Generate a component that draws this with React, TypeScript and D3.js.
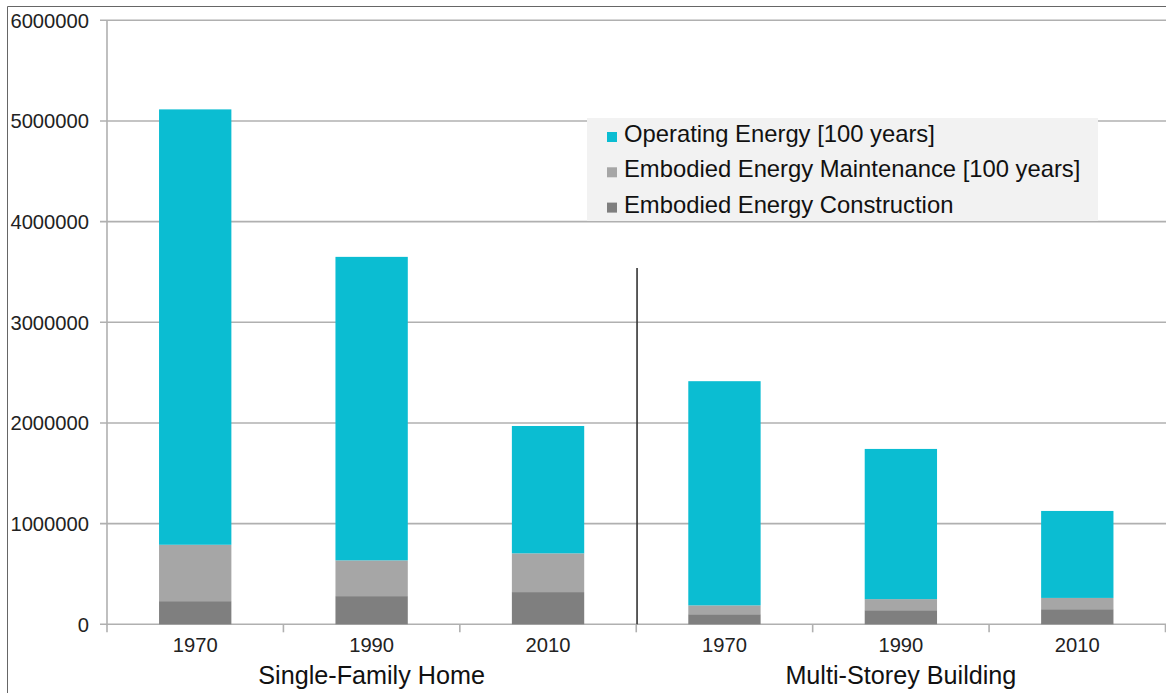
import * as d3 from "d3";

// bar order: Single-Family Home 1970/1990/2010, then Multi-Storey Building 1970/1990/2010
const years = ["1970", "1990", "2010", "1970", "1990", "2010"];
const groups = ["Single-Family Home", "Multi-Storey Building"];
const construction = [230000, 280000, 320000, 100000, 140000, 150000];
const maintenance = [560000, 355000, 385000, 88000, 110000, 112000];
const operating = [4325000, 3015000, 1265000, 2227000, 1492000, 864000];
const seriesNames = [
  "Embodied Energy Construction",
  "Embodied Energy Maintenance [100 years]",
  "Operating Energy [100 years]",
];
const yTicks = [0, 1000000, 2000000, 3000000, 4000000, 5000000, 6000000];
const separatorTop = 3540000;

const colors = ["#7f7f7f", "#a6a6a6", "#0bbdd2"];
const font = "'Liberation Sans', Arial, sans-serif";

export default function App() {
  const width = 1166;
  const height = 693;
  const left = 107;
  const right = 1165.5;
  const bottom = 624.3;
  const top = 20.3;

  const x = d3
    .scaleBand<number>()
    .domain(d3.range(years.length))
    .range([left, right])
    .padding(0);
  const barW = x.bandwidth() * 0.41;

  const y = d3.scaleLinear().domain([0, 6000000]).range([bottom, top]);

  const rows = years.map((_, i) => ({
    i,
    c: construction[i],
    m: maintenance[i],
    o: operating[i],
  }));
  const stack = d3
    .stack<(typeof rows)[0]>()
    .keys(["c", "m", "o"])
    .value((d, k) => (d as any)[k]);
  const layers = stack(rows);

  const boundaries = d3.range(years.length + 1).map((i) => left + i * x.step());
  const sepX = left + 3 * x.step() + 0.8;

  // legend, top to bottom
  const legendOrder = [2, 1, 0];

  return (
    <svg
      width={width}
      height={height}
      style={{ position: "absolute", left: 0, top: 0, background: "#fff" }}
      fontFamily={font}
    >
      {/* outer frame */}
      <path d={`M7.5,${height} V6.5 H${width}`} fill="none" stroke="#666" strokeWidth={1} />

      {/* gridlines */}
      {yTicks.map((t) => (
        <line
          key={t}
          x1={left - 7}
          x2={width}
          y1={y(t)}
          y2={y(t)}
          stroke="#b0b0b0"
          strokeWidth={1.6}
        />
      ))}
      <line x1={left} x2={left} y1={top} y2={bottom + 1} stroke="#b0b0b0" strokeWidth={1.6} />
      {boundaries.map((b, i) => (
        <line key={i} x1={b} x2={b} y1={bottom} y2={bottom + 8} stroke="#b0b0b0" strokeWidth={1.6} />
      ))}

      {/* y labels */}
      {yTicks.map((t) => (
        <text
          key={t}
          x={89}
          y={y(t)}
          dy="0.36em"
          textAnchor="end"
          fontSize={20.2}
          fill="#222"
        >
          {t}
        </text>
      ))}

      {/* bars */}
      {layers.map((layer, li) =>
        layer.map((d, i) => (
          <rect
            key={`${li}-${i}`}
            x={x(i)! + (x.bandwidth() - barW) / 2}
            y={y(d[1])}
            width={barW}
            height={y(d[0]) - y(d[1])}
            fill={colors[li]}
          />
        )),
      )}

      {/* separator */}
      <line x1={sepX} x2={sepX} y1={y(separatorTop)} y2={bottom} stroke="#333" strokeWidth={1.6} />

      {/* x labels */}
      {years.map((yr, i) => (
        <text
          key={i}
          x={x(i)! + x.bandwidth() / 2}
          y={652}
          textAnchor="middle"
          fontSize={20.2}
          fill="#222"
        >
          {yr}
        </text>
      ))}
      {groups.map((g, gi) => (
        <text
          key={g}
          x={left + (gi * 3 + 1.5) * x.step()}
          y={684}
          textAnchor="middle"
          fontSize={25.2}
          fill="#111"
        >
          {g}
        </text>
      ))}

      {/* legend */}
      <rect x={587} y={118} width={511} height={103} fill="#f2f2f2" />
      {legendOrder.map((k, r) => {
        const base = 142 + r * 35.3;
        return (
          <g key={k}>
            <rect x={607} y={base - 10} width={10} height={10} fill={colors[k]} />
            <text x={624} y={base} fontSize={23.8} fill="#111">
              {seriesNames[k]}
            </text>
          </g>
        );
      })}
    </svg>
  );
}
